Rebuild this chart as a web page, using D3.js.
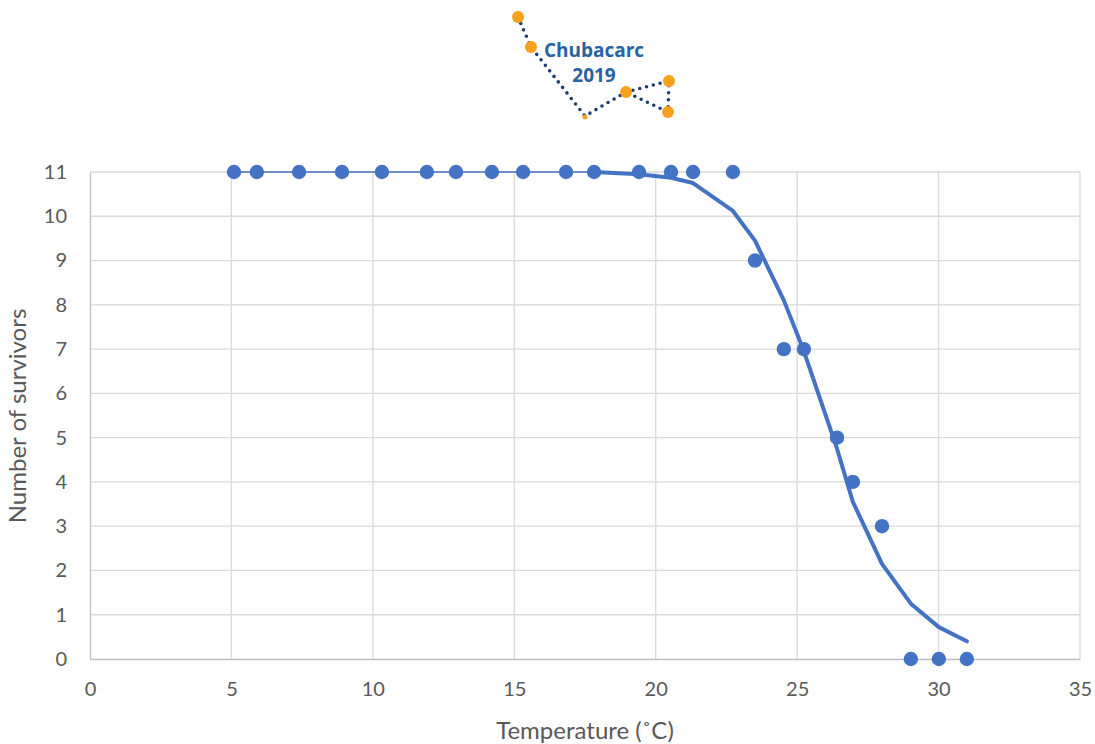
<!DOCTYPE html>
<html><head><meta charset="utf-8">
<script src="https://cdn.jsdelivr.net/npm/d3@7"></script>
<style>body{margin:0;background:#fff;}svg{display:block;}text{font-family:Lato,"Open Sans",sans-serif;}</style>
</head><body><svg id="c" width="1095" height="744"></svg>
<script>
// Observed data
const temps = [5.09,5.90,7.39,8.91,10.32,11.91,12.94,14.21,15.31,16.83,17.82,19.41,20.54,21.32,22.73,23.51,24.53,25.24,26.41,26.97,28.0,29.02,30.01,31.0];
const survivors = [11,11,11,11,11,11,11,11,11,11,11,11,11,11,11,9,7,7,5,4,3,0,0,0];
// Fitted curve (model values at data temperatures)
const fitTemps = [5.09,17.82,19.41,20.54,21.32,22.73,23.51,24.53,25.24,26.41,26.97,28.0,29.02,30.01,31.0];
const fitValues = [11,11,10.95,10.87,10.75,10.12,9.45,8.1,6.95,4.75,3.55,2.15,1.25,0.72,0.4];
const xTicks = [0,5,10,15,20,25,30,35];
const yTicks = [0,1,2,3,4,5,6,7,8,9,10,11];
const xTitle = "Temperature (˚C)";
const yTitle = "Number of survivors";

const svg = d3.select("#c");
const x = d3.scaleLinear().domain([0,35]).range([90,1080]);
const y = d3.scaleLinear().domain([0,11]).range([659,172]);
const blue = "#4472C4", txt = "#595959";

// grid
svg.append("g").selectAll("line").data(yTicks.filter(d=>d>0)).join("line")
  .attr("x1",x(0)).attr("x2",x(35)).attr("y1",d=>y(d)).attr("y2",d=>y(d))
  .attr("stroke","#d9d9d9").attr("stroke-width",1.3);
svg.append("g").selectAll("line").data(xTicks.filter(d=>d>0)).join("line")
  .attr("x1",d=>x(d)).attr("x2",d=>x(d)).attr("y1",y(0)).attr("y2",y(11))
  .attr("stroke","#d9d9d9").attr("stroke-width",1.3);
// axes
const xa = svg.append("g").attr("transform",`translate(0,${y(0)})`)
  .call(d3.axisBottom(x).tickValues(xTicks).tickSize(0).tickPadding(23));
const ya = svg.append("g").attr("transform",`translate(${x(0)},0)`)
  .call(d3.axisLeft(y).tickValues(yTicks).tickSize(0).tickPadding(23));
[xa,ya].forEach(a=>{a.select(".domain").attr("stroke","#bfbfbf").attr("stroke-width",1.3);
  a.selectAll("text").attr("fill",txt).attr("font-size",20).style("font-family","Lato, 'Open Sans', sans-serif");});
ya.selectAll("text").attr("text-anchor","end");

svg.append("text").attr("x",585).attr("y",739).attr("text-anchor","middle")
  .attr("fill",txt).attr("font-size",24).text(xTitle);
svg.append("text").attr("transform","translate(26,416) rotate(-90)").attr("text-anchor","middle")
  .attr("fill",txt).attr("font-size",24).text(yTitle);

// fit lines
const line = d3.line().x(d=>x(d[0])).y(d=>y(d[1]));
const fitPts = fitTemps.map((t,i)=>[t,fitValues[i]]);
svg.append("path").attr("d",line(fitPts.slice(0,2))).attr("fill","none").attr("stroke",blue).attr("stroke-width",1.5);
svg.append("path").attr("d",line(fitPts.slice(1))).attr("fill","none").attr("stroke",blue)
  .attr("stroke-width",4).attr("stroke-linecap","round").attr("stroke-linejoin","round");

// points
svg.append("g").selectAll("circle").data(temps.map((t,i)=>[t,survivors[i]])).join("circle")
  .attr("cx",d=>x(d[0])).attr("cy",d=>y(d[1])).attr("r",7.2).attr("fill",blue);

// logo
const logo = svg.append("g");
const navy = "#1d3d6f", orange = "#F5A11E";
const dotted = (pts)=>logo.append("path").attr("d",d3.line()(pts)).attr("fill","none")
  .attr("stroke",navy).attr("stroke-width",3.6).attr("stroke-dasharray","0 7").attr("stroke-linecap","round");
dotted([[518,17],[531,47],[585,116],[626,92],[669,81],[668,112],[626,92]]);
[[518,17,6],[531,47,6],[626,92,6],[669,81,6],[668,112,6],[585,117,2.5]].forEach(c=>
  logo.append("circle").attr("cx",c[0]).attr("cy",c[1]).attr("r",c[2]).attr("fill",orange));
logo.append("text").attr("x",594).attr("y",57).attr("text-anchor","middle").attr("fill","#2563a3")
  .attr("font-size",19).attr("font-weight","bold").style("font-family","'Open Sans',sans-serif").text("Chubacarc");
logo.append("text").attr("x",594).attr("y",82).attr("text-anchor","middle").attr("fill","#2563a3")
  .attr("font-size",19).attr("font-weight","bold").style("font-family","'Open Sans',sans-serif").text("2019");
</script></body></html>
